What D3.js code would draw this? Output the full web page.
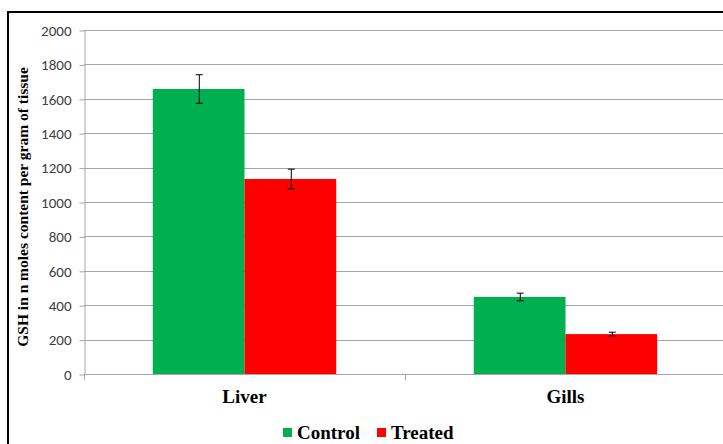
<!DOCTYPE html>
<html>
<head>
<meta charset="utf-8">
<script src="https://cdn.jsdelivr.net/npm/d3@7"></script>
<style>
  html, body { margin: 0; padding: 0; background: #fff; }
  svg { display: block; }
</style>
</head>
<body>
<div id="chart"></div>
<script>
// tissues and series
const tissues = ["Liver", "Gills"];
const seriesNames = ["Control", "Treated"];
const controlValues = [1657, 448];
const treatedValues = [1134, 232];
const controlErrors = [83, 22];
const treatedErrors = [57, 11];
const yTicks = [0, 200, 400, 600, 800, 1000, 1200, 1400, 1600, 1800, 2000];
const seriesColors = ["#00B050", "#FF0000"];

const W = 723, H = 444;
const plot = { left: 84, right: 726, top: 30, bottom: 374 };

const svg = d3.select("#chart").append("svg")
    .attr("width", W)
    .attr("height", H);

// outer frame (right and bottom edge fall outside the window)
svg.append("rect")
    .attr("x", 8).attr("y", 12)
    .attr("width", W + 20).attr("height", H + 20)
    .attr("fill", "none")
    .attr("stroke", "#000")
    .attr("stroke-width", 2);

const x0 = d3.scaleBand().domain(tissues).range([plot.left, plot.right]);
const y = d3.scaleLinear().domain([0, 2000]).range([plot.bottom, plot.top]);

// gridlines
svg.append("g").selectAll("line")
    .data(yTicks.filter(t => t > 0))
    .join("line")
    .attr("x1", plot.left).attr("x2", plot.right)
    .attr("y1", d => Math.round(y(d)) + 0.5).attr("y2", d => Math.round(y(d)) + 0.5)
    .attr("stroke", "#a6a6a6")
    .attr("stroke-width", 1);

// y axis
const yAxis = svg.append("g")
    .attr("transform", `translate(${plot.left + 0.5},0.5)`)
    .call(d3.axisLeft(y).tickValues(yTicks).tickFormat(d3.format("d"))
        .tickSize(5).tickPadding(8).tickSizeOuter(0));
yAxis.select(".domain").attr("stroke", "#a6a6a6");
yAxis.selectAll(".tick line").attr("stroke", "#a6a6a6");
yAxis.selectAll(".tick text")
    .attr("fill", "#404040")
    .style("font-family", "Carlito, Calibri, 'Liberation Sans', Arial, sans-serif")
    .style("font-size", "15px");
// extend y axis line a bit below zero like Excel
svg.append("line")
    .attr("x1", plot.left + 0.5).attr("x2", plot.left + 0.5)
    .attr("y1", plot.bottom).attr("y2", plot.bottom + 6)
    .attr("stroke", "#a6a6a6");

// x axis line and category separators
svg.append("line")
    .attr("x1", plot.left).attr("x2", plot.right)
    .attr("y1", Math.round(y(0)) + 0.5).attr("y2", Math.round(y(0)) + 0.5)
    .attr("stroke", "#a6a6a6");
svg.append("g").selectAll("line")
    .data(tissues.slice(1))
    .join("line")
    .attr("x1", d => Math.round(x0(d)) + 0.5).attr("x2", d => Math.round(x0(d)) + 0.5)
    .attr("y1", plot.bottom).attr("y2", plot.bottom + 6)
    .attr("stroke", "#a6a6a6");

// bars
const gapRatio = 1.5;
const barW = x0.bandwidth() / (seriesNames.length + gapRatio);
const x1 = d3.scaleBand().domain(seriesNames)
    .range([0, barW * seriesNames.length]);

const rows = tissues.map((t, i) => ({
    tissue: t,
    vals: [
        { s: "Control", v: controlValues[i], e: controlErrors[i] },
        { s: "Treated", v: treatedValues[i], e: treatedErrors[i] }
    ]
}));
const color = d3.scaleOrdinal().domain(seriesNames).range(seriesColors);

const groups = svg.append("g").selectAll("g")
    .data(rows)
    .join("g")
    .attr("transform", d => `translate(${x0(d.tissue) + barW * gapRatio / 2},0)`);

groups.selectAll("rect")
    .data(d => d.vals)
    .join("rect")
    .attr("x", d => x1(d.s))
    .attr("y", d => y(d.v))
    .attr("width", x1.bandwidth())
    .attr("height", d => y(0) - y(d.v))
    .attr("fill", d => color(d.s));

// error bars
const eb = groups.selectAll("g.err")
    .data(d => d.vals)
    .join("g")
    .attr("class", "err")
    .attr("transform", d => `translate(${Math.round(x1(d.s) + x1.bandwidth() / 2) + 0.5},0)`);
eb.append("line")
    .attr("y1", d => y(d.v + d.e)).attr("y2", d => y(d.v - d.e))
    .attr("stroke", "#000");
eb.append("line")
    .attr("x1", -3.5).attr("x2", 3.5)
    .attr("y1", d => y(d.v + d.e)).attr("y2", d => y(d.v + d.e))
    .attr("stroke", "#000");
eb.append("line")
    .attr("x1", -3.5).attr("x2", 3.5)
    .attr("y1", d => y(d.v - d.e)).attr("y2", d => y(d.v - d.e))
    .attr("stroke", "#000");

// category labels
svg.append("g").selectAll("text")
    .data(tissues)
    .join("text")
    .attr("x", d => x0(d) + x0.bandwidth() / 2)
    .attr("y", 403)
    .attr("text-anchor", "middle")
    .style("font-family", "'Liberation Serif', 'Times New Roman', serif")
    .style("font-weight", "bold")
    .style("font-size", "19px")
    .text(d => d);

// y axis title
svg.append("text")
    .attr("transform", `translate(28,${(plot.top + plot.bottom) / 2 + 5}) rotate(-90)`)
    .attr("text-anchor", "middle")
    .style("font-family", "'Liberation Serif', 'Times New Roman', serif")
    .style("font-weight", "bold")
    .style("font-size", "15.5px")
    .text("GSH in n moles content per gram of tissue");

// legend
const legend = svg.append("g").attr("transform", "translate(283,428)");
const legendX = [0, 94];
const li = legend.selectAll("g")
    .data(seriesNames)
    .join("g")
    .attr("transform", (d, i) => `translate(${legendX[i]},0)`);
li.append("rect")
    .attr("width", 9).attr("height", 9)
    .attr("fill", d => color(d));
li.append("text")
    .attr("x", 14).attr("y", 11)
    .style("font-family", "'Liberation Serif', 'Times New Roman', serif")
    .style("font-weight", "bold")
    .style("font-size", "19px")
    .text(d => d);
</script>
</body>
</html>
